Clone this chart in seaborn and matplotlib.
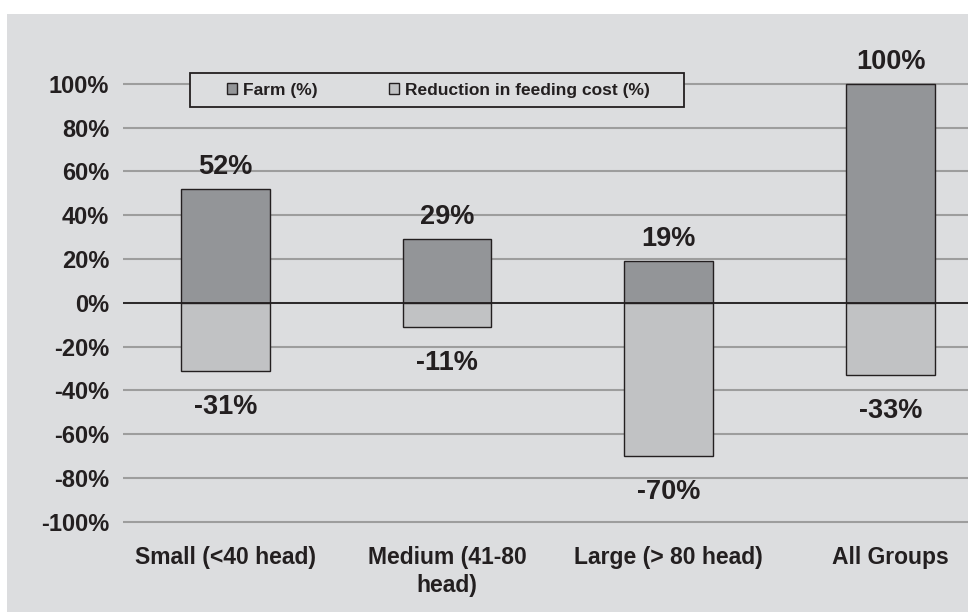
import matplotlib
matplotlib.use("Agg")
import matplotlib.pyplot as plt
from matplotlib.patches import Rectangle
from matplotlib.ticker import PercentFormatter
import seaborn as sns

# values
groups = ["Small (<40 head)", "Medium (41-80\nhead)", "Large (> 80 head)", "All Groups"]
farm_pct = [0.52, 0.29, 0.19, 1.00]
feed_cost_pct = [-0.31, -0.11, -0.70, -0.33]
yticks = [-1.0, -0.8, -0.6, -0.4, -0.2, 0.0, 0.2, 0.4, 0.6, 0.8, 1.0]

BG = "#dcdddf"
DARK = "#939598"
LIGHT = "#c1c2c4"
INK = "#231f20"

sns.set_style("white")
plt.rcParams["font.family"] = ["Liberation Sans", "DejaVu Sans"]
plt.rcParams["font.weight"] = "bold"
plt.rcParams["axes.unicode_minus"] = False

fig = plt.figure(figsize=(9.68, 6.12), dpi=100, facecolor="white")
fig.patches.append(Rectangle((7 / 968, 0), 1, (612 - 14) / 612, transform=fig.transFigure,
                             facecolor=BG, edgecolor="none", zorder=-10))
ax = fig.add_axes([123 / 968, 0.1404, 1 - 123 / 968, 0.7296])
ax.set_facecolor(BG)

sns.barplot(x=groups, y=farm_pct, color=DARK, saturation=1, width=0.4,
            edgecolor=INK, linewidth=1, label="Farm (%)", ax=ax, zorder=2)
sns.barplot(x=groups, y=feed_cost_pct, color=LIGHT, saturation=1, width=0.4,
            edgecolor=INK, linewidth=1, label="Reduction in feeding cost (%)", ax=ax, zorder=2)

# data labels
for i, v in enumerate(farm_pct):
    ax.annotate(f"{v:.0%}", (i, v), xytext=(0, 11), textcoords="offset points",
                ha="center", va="baseline", fontsize=19.5, fontweight="bold", color=INK)
for i, v in enumerate(feed_cost_pct):
    ax.annotate(f"{v:.0%}", (i, v), xytext=(0, -31), textcoords="offset points",
                ha="center", va="baseline", fontsize=19.5, fontweight="bold", color=INK)

ax.axhline(0, color=INK, lw=1.3, zorder=3)
ax.set_ylim(-1.02, 1.02)
ax.set_xlim(-0.461, 3.349)
ax.set_yticks(yticks)
ax.yaxis.set_major_formatter(PercentFormatter(1.0, decimals=0))
ax.set_axisbelow(True)
ax.yaxis.grid(True, color="#9d9d9d", lw=1.5)
ax.xaxis.grid(False)
sns.despine(ax=ax, left=True, bottom=True)
ax.tick_params(axis="y", length=0, pad=10, labelsize=17, labelcolor=INK)
ax.tick_params(axis="x", length=0, pad=14, labelsize=16.5, labelcolor=INK)
for lab in ax.get_xticklabels():
    lab.set_linespacing(1.3)
ax.set_xlabel("")
ax.set_ylabel("")

# legend box
handles, labels = ax.get_legend_handles_labels()
if ax.get_legend() is not None:
    ax.get_legend().remove()
fig.patches.append(Rectangle((190 / 968, (612 - 107) / 612), 494 / 968, 34 / 612,
                             transform=fig.transFigure, facecolor=BG, edgecolor=INK,
                             lw=1.3, zorder=4))
fig.legend(handles, labels, loc="center", ncol=2, mode="expand", frameon=False,
           bbox_to_anchor=(227 / 968, (612 - 107) / 612, 423 / 968, 34 / 612),
           bbox_transform=fig.transFigure, borderpad=0, borderaxespad=0,
           handlelength=0.58, handleheight=0.58, handletextpad=0.35,
           prop={"size": 12.5, "weight": "bold"}, labelcolor=INK)

fig.savefig("out.png", dpi=100, facecolor=fig.get_facecolor())
